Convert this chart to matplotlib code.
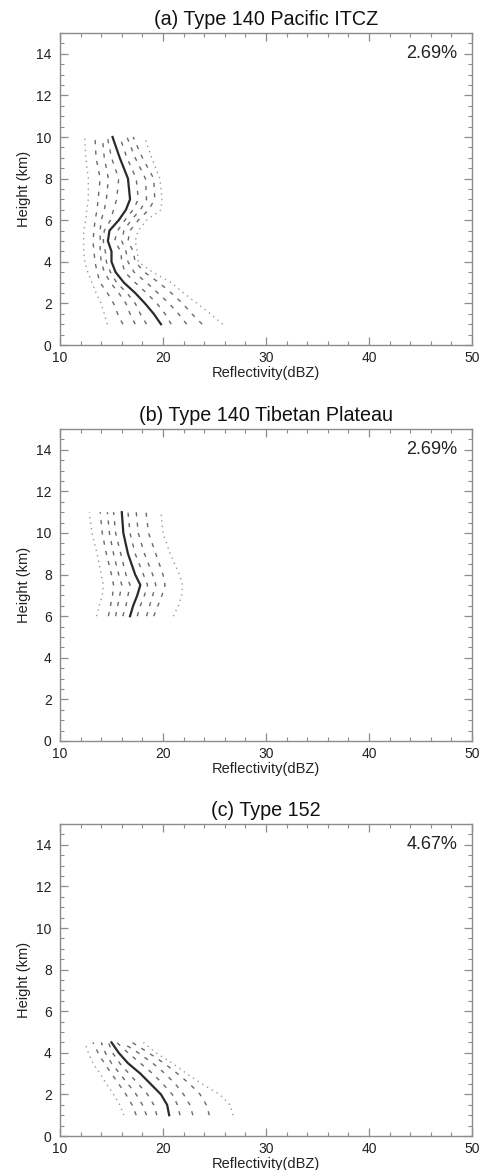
import matplotlib
matplotlib.use("Agg")
import matplotlib.pyplot as plt
from matplotlib.ticker import MultipleLocator

plt.rcParams['font.family'] = ['Liberation Sans', 'DejaVu Sans']

# ---------------- data ----------------
titles = ["(a) Type 140 Pacific ITCZ", "(b) Type 140 Tibetan Plateau", "(c) Type 152"]
percents = ["2.69%", "2.69%", "4.67%"]

# Panel (a)
h_a = [1, 1.5, 2, 2.5, 3, 3.5, 4, 4.5, 5, 5.5, 6, 6.5, 7, 8, 9, 10]
a_L1 = [14.6, 14.3, 14.0, 13.5, 13.1, 12.7, 12.4, 12.3, 12.3, 12.3, 12.5, 12.6, 12.75, 12.75, 12.5, 12.4]
a_L2 = [16.1, 15.6, 15.2, 14.6, 13.9, 13.6, 13.4, 13.3, 13.2, 13.3, 13.4, 13.6, 13.7, 13.9, 13.5, 13.4]
a_L3 = [17.3, 16.8, 16.4, 15.7, 14.9, 14.3, 14.0, 13.9, 13.9, 13.9, 14.0, 14.3, 14.5, 14.7, 14.3, 14.1]
a_L4 = [18.4, 17.8, 17.3, 16.5, 15.5, 14.9, 14.5, 14.4, 14.2, 14.3, 14.9, 15.2, 15.5, 15.7, 15.0, 14.6]
a_M = [19.8, 19.1, 18.25, 17.3, 16.2, 15.4, 15.0, 15.0, 14.65, 14.8, 15.7, 16.4, 16.8, 16.6, 15.8, 15.1]
a_R4 = [20.8, 20.2, 19.4, 18.4, 17.3, 16.3, 16.0, 15.9, 15.3, 15.6, 16.3, 17.1, 17.6, 17.4, 16.5, 15.8]
a_R3 = [22.3, 21.5, 20.6, 19.5, 18.4, 17.2, 16.6, 16.4, 16.0, 16.2, 16.9, 17.8, 18.4, 18.3, 17.3, 16.5]
a_R2 = [23.8, 22.8, 21.9, 20.8, 19.6, 18.2, 17.3, 17.1, 16.6, 16.8, 17.6, 18.6, 19.2, 19.1, 18.0, 17.1]
a_R1 = [25.8, 24.6, 23.3, 22.0, 20.8, 19.0, 17.6, 17.5, 17.3, 17.6, 18.4, 19.8, 19.9, 19.7, 18.9, 18.2]

# Panel (b)
h_b = [6, 6.5, 7, 7.5, 8, 9, 10, 11]
b_L1 = [13.55, 13.8, 14.1, 14.2, 14.0, 13.6, 13.1, 12.85]
b_L2 = [14.7, 14.9, 15.1, 15.2, 15.0, 14.5, 14.1, 13.9]
b_L3 = [15.4, 15.6, 15.8, 16.0, 15.7, 15.2, 14.8, 14.6]
b_L4 = [16.1, 16.4, 16.6, 16.8, 16.4, 15.9, 15.4, 15.2]
b_M = [16.8, 17.1, 17.5, 17.8, 17.3, 16.6, 16.15, 16.0]
b_R4 = [17.5, 17.8, 18.2, 18.5, 18.1, 17.3, 16.8, 16.6]
b_R3 = [18.4, 18.7, 19.0, 19.3, 19.0, 18.2, 17.6, 17.4]
b_R2 = [19.1, 19.5, 19.9, 20.2, 20.0, 19.3, 18.6, 18.35]
b_R1 = [21.0, 21.5, 21.8, 21.9, 21.6, 20.7, 20.0, 19.8]

# Panel (c)
h_c = [1, 1.5, 2, 2.5, 3, 3.5, 4, 4.5]
c_L1 = [16.2, 15.8, 15.2, 14.5, 13.9, 13.2, 12.75, 12.4]
c_L2 = [17.4, 17.0, 16.4, 15.7, 15.0, 14.3, 13.7, 13.2]
c_L3 = [18.4, 18.0, 17.4, 16.6, 15.8, 15.0, 14.4, 14.0]
c_L4 = [19.4, 19.1, 18.5, 17.6, 16.7, 15.8, 15.1, 14.7]
c_M = [20.6, 20.4, 19.8, 18.8, 17.8, 16.6, 15.7, 15.0]
c_R4 = [21.65, 21.4, 20.9, 20.0, 19.0, 17.8, 16.6, 15.5]
c_R3 = [22.9, 22.6, 22.0, 21.2, 20.2, 19.0, 17.6, 16.0]
c_R2 = [24.5, 24.2, 23.6, 22.6, 21.4, 20.1, 18.6, 17.0]
c_R1 = [26.8, 26.5, 25.5, 23.8, 22.3, 20.9, 19.3, 18.1]

panels = [
    (h_a, [a_L1, a_L2, a_L3, a_L4, a_M, a_R4, a_R3, a_R2, a_R1]),
    (h_b, [b_L1, b_L2, b_L3, b_L4, b_M, b_R4, b_R3, b_R2, b_R1]),
    (h_c, [c_L1, c_L2, c_L3, c_L4, c_M, c_R4, c_R3, c_R2, c_R1]),
]

# ---------------- styles ----------------
dot = dict(color='#9a9a9a', lw=1.0, ls=(0, (1, 3)))
dash = dict(color='#6a6a6a', lw=1.0, ls=(0, (3, 4.5)))
solid = dict(color='#2a2a2a', lw=1.6, ls='-', solid_joinstyle='round')
styles = [dot, dash, dash, dash, solid, dash, dash, dash, dot]

fig = plt.figure(figsize=(4.82, 11.70), dpi=100)
W, H = 482.0, 1170.0
ax_left, ax_right = 60, 472
tops = [33, 429, 824]
ax_h = 312

spine_col = '#8c8c8c'
for i, (hs, lines) in enumerate(panels):
    top = tops[i]
    ax = fig.add_axes([ax_left / W, 1 - (top + ax_h) / H, (ax_right - ax_left) / W, ax_h / H])
    for xs, st in zip(lines, styles):
        ax.plot(xs, hs, **st)
    ax.set_xlim(10, 50)
    ax.set_ylim(0, 15)
    ax.xaxis.set_major_locator(MultipleLocator(10))
    ax.xaxis.set_minor_locator(MultipleLocator(2))
    ax.yaxis.set_major_locator(MultipleLocator(2))
    ax.yaxis.set_minor_locator(MultipleLocator(0.5))
    ax.tick_params(which='both', direction='in', top=True, right=True,
                   color=spine_col, labelcolor='#222222', labelsize=10)
    ax.tick_params(which='major', length=6, width=0.9)
    ax.tick_params(which='minor', length=3, width=0.8)
    ax.tick_params(axis='y', which='major', pad=6)
    ax.tick_params(axis='x', which='major', pad=4)
    for sp in ax.spines.values():
        sp.set_color(spine_col)
        sp.set_linewidth(1.0)
    ax.set_xlabel('Reflectivity(dBZ)', fontsize=10.5, color='#222222', labelpad=1)
    ax.set_ylabel('Height (km)', fontsize=10.5, color='#222222', labelpad=4)
    ax.set_title(titles[i], fontsize=14.2, color='#111111', pad=6)
    ax.text(0.965, 0.935, percents[i], transform=ax.transAxes, ha='right', va='center',
            fontsize=13, color='#222222')

fig.savefig('out.png', dpi=100, facecolor='white')
